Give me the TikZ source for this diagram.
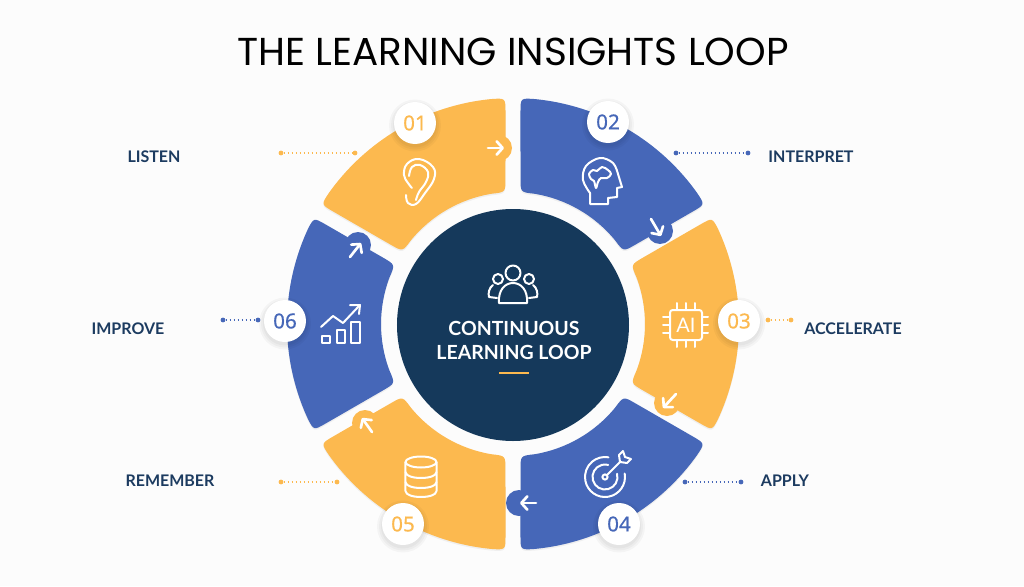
\documentclass[tikz,border=0pt]{standalone}
\usepackage{fontspec}
\setmainfont{Lato}
\newfontfamily\titlefont{Poppins}
\newfontfamily\numfont[FakeBold=0.5]{Noto Sans}
\usetikzlibrary{calc,arrows.meta}
\definecolor{orng}{HTML}{FCB94F}
\definecolor{blu}{HTML}{4667B8}
\definecolor{navy}{HTML}{15395B}
\definecolor{lbl}{HTML}{1C3B60}
\newcommand{\segp}{($(\sA-\dOut-\cOut:226)$) arc[start angle=\sA-\dOut-\cOut, end angle=\sB+\dOut+\cOut, radius=226]
 .. controls (\sB+\dOut:226) .. ($(\sB+\dOut:226)+(\sB+180:14)$)
 -- ($(\sB+\dIn:132)+(\sB:14)$) .. controls (\sB+\dIn:132) .. (\sB+\dIn+\cIn:132)
 arc[start angle=\sB+\dIn+\cIn, end angle=\sA-\dIn-\cIn, radius=132]
 .. controls (\sA-\dIn:132) .. ($(\sA-\dIn:132)+(\sA:14)$)
 -- ($(\sA-\dOut:226)+(\sA+180:14)$) .. controls (\sA-\dOut:226) .. cycle}
\newcommand{\seg}[3]{\pgfmathsetmacro\sA{#2}\pgfmathsetmacro\sB{#3}
 \def\dOut{1.9}\def\dIn{3.26}\def\cOut{3.5}\def\cIn{6}
 \fill[black,opacity=.05,yshift=-1.2pt] \segp;
 \fill[#1] \segp;}
\newcommand{\badge}[4]{% name, pos, colour, text
 \foreach \rr in {26,24,22}{\fill[black,opacity=.03] ($(#2)+(0,2.5)$) circle[radius=\rr];}
 \node[badgestyle,text=#3] (#1) at (#2) {#4};}
\newcommand{\bump}[5]{% name,pos,colour,from,to
 \node[bumpstyle,fill=#3] (#1) at (#2) {};
 \coordinate (#1s) at (#4); \coordinate (#1e) at (#5);
 \draw[arrw] (#1s) -- (#1e);}
\newcommand{\leader}[4]{% name,a,b,colour
 \node[dotend,fill=#4] (#1a) at (#2) {};
 \node[dotend,fill=#4] (#1b) at (#3) {};
 \draw[leaderline,#4] (#1a) -- (#1b);}
\tikzset{x=.75pt,y=.75pt,
 px/.style={shift={(-513,324)},yscale=-1},
 badgestyle/.style={circle,fill=white,minimum size=31.5pt,inner sep=0pt,font=\numfont\fontsize{15.5}{16}\selectfont},
 bumpstyle/.style={circle,minimum size=19.5pt,inner sep=0pt},
 arrw/.style={white,line width=2pt,line cap=round,-{Straight Barb[length=4.5pt,width=10pt,line width=2pt,round]}},
 dotend/.style={circle,minimum size=3.6pt,inner sep=0pt},
 leaderline/.style={line width=1pt,dash pattern=on 1.2pt off 1.8pt},
 lab/.style={text=lbl,font=\bfseries\fontsize{12}{13}\selectfont},
 ic/.style={white,line width=1.5pt,line join=round,line cap=round},
}
\begin{document}
\begin{tikzpicture}
\useasboundingbox (-513,-262) rectangle (511,324);
\fill[white!99!black] (-513,-262) rectangle (511,324);
\seg{orng}{150}{90}
\seg{blu}{90}{30}
\seg{orng}{30}{-30}
\seg{blu}{-30}{-90}
\seg{orng}{-90}{-150}
\seg{blu}{-150}{-210}
\begin{scope}[px]
\node[font=\titlefont\fontsize{29.2}{32}\selectfont,text=black] (title) at (513,52) {THE LEARNING INSIGHTS LOOP};
\bump{a1}{499,148}{orng}{488,148}{504,148}
\bump{a2}{660,231}{blu}{651,219}{661,236}
\bump{a3}{667,403}{orng}{676,394}{663,408}
\bump{a4}{519,503}{blu}{536,503}{520,503}
\bump{a5}{365,423}{orng}{372,432}{362,418}
\bump{a6}{358,245}{blu}{350,257}{361,243}
\badge{b1}{415,123}{orng}{01}
\badge{b2}{608,122}{blu}{02}
\badge{b3}{739,321}{orng}{03}
\badge{b4}{619,524}{blu}{04}
\badge{b5}{403,524}{orng}{05}
\badge{b6}{285,321}{blu}{06}
\leader{l1}{281,153}{355,153}{orng}
\leader{l2}{676,153}{748,153}{blu}
\leader{l3}{768,320}{791,320}{orng}
\leader{l4}{685,482}{741,482}{blu}
\leader{l5}{281,482}{337,482}{orng}
\leader{l6}{223,320}{258,320}{blu}
\node[lab] (t1) at (154,157) {LISTEN};
\node[lab] (t2) at (811,157) {INTERPRET};
\node[lab] (t3) at (853,329) {ACCELERATE};
\node[lab] (t4) at (785,481) {APPLY};
\node[lab] (t5) at (170,481) {REMEMBER};
\node[lab] (t6) at (128,329) {IMPROVE};
% centre
\node[circle,fill=navy,minimum size=174pt,inner sep=0pt] (hub) at (513,325) {};
\node[text=white,align=center,font=\bfseries\fontsize{14.6}{18}\selectfont] (hubt) at (514,340) {CONTINUOUS\\LEARNING LOOP};
\fill[orng] (499,372) rectangle (529,374.2);
% people
\draw[ic] (513,273) circle[radius=7.5];
\draw[ic] (499,303) .. controls (498,290) and (505,283) .. (513,283) .. controls (521,283) and (528,290) .. (527,303) -- cycle;
\draw[ic] (498,279) circle[radius=5];
\draw[ic] (529,279) circle[radius=5];
\draw[ic] (493,285) .. controls (489,288) and (488,293) .. (489,297) -- (497,298);
\draw[ic] (533,285) .. controls (537,288) and (538,293) .. (537,297) -- (529,298);
% ear
\draw[ic] plot[smooth,tension=.7] coordinates {(406,195)(408,203)(416,204)(425,193)(434,179)(433,167)(419,159)(407,164)(404,175)(408,183)(412,188)};
\draw[ic] plot[smooth,tension=.7] coordinates {(409,176)(412,167)(420,165)(428,172)(426,182)(419,192)(416,200)};
% head
\draw[ic] plot[smooth,tension=.6] coordinates {(590,193)(583,180)(586,166)(600,158)(613,163)(618,174)};
\draw[ic] (618,174) -- (622,187) -- (617,188) -- (617,197) -- (608,198) -- (608,204) -- (590,204) -- (590,193);
\draw[ic] plot[smooth cycle,tension=.6] coordinates {(589,174)(593,170)(597,171)(602,167)(608,170)(611,174)(607,178)(601,178)(598,182)(596,188)(594,181)(591,179)};
% chip
\draw[ic,rounded corners=2pt] (670,310) rectangle (702,340);
\foreach \xx in {677,686,695}{\draw[ic] (\xx,303) -- (\xx,310); \draw[ic] (\xx,340) -- (\xx,347);}
\foreach \yy in {317,325,333}{\draw[ic] (663,\yy) -- (670,\yy); \draw[ic] (702,\yy) -- (708,\yy);}
\node[text=white,font=\fontsize{15}{15}\selectfont] (ai) at (686,325) {AI};
% database
\draw[ic] (421,462) ellipse[x radius=15.5,y radius=5.5];
\draw[ic] (405.5,462) -- (405.5,491) .. controls (405.5,499) and (436.5,499) .. (436.5,491) -- (436.5,462);
\draw[ic] (405.5,472) .. controls (405.5,480) and (436.5,480) .. (436.5,472);
\draw[ic] (405.5,482) .. controls (405.5,490) and (436.5,490) .. (436.5,482);
% chart
\draw[ic] (322,336) rectangle (330,343);
\draw[ic] (337,330) rectangle (345,343);
\draw[ic] (351,322) rectangle (360,343);
\draw[ic] (321,327) -- (333,316) -- (343,323) -- (359,306);
\draw[ic] (350,305) -- (360,305) -- (359,314);
\end{scope}
\begin{scope}[shift={(92,-153)}]
\draw[ic] (10:20) arc[start angle=10,end angle=-280,radius=20];
\draw[ic] (15:12.5) arc[start angle=15,end angle=-285,radius=12.5];
\draw[ic] (0,0) circle[radius=2.6];
\draw[ic] (1.5,1.5) -- (15,15);
\draw[ic] (15,15) -- (14,22) -- (18,26) -- (20,20) -- (26,18) -- (22,14) -- cycle;
\end{scope}
\end{tikzpicture}
\end{document}
